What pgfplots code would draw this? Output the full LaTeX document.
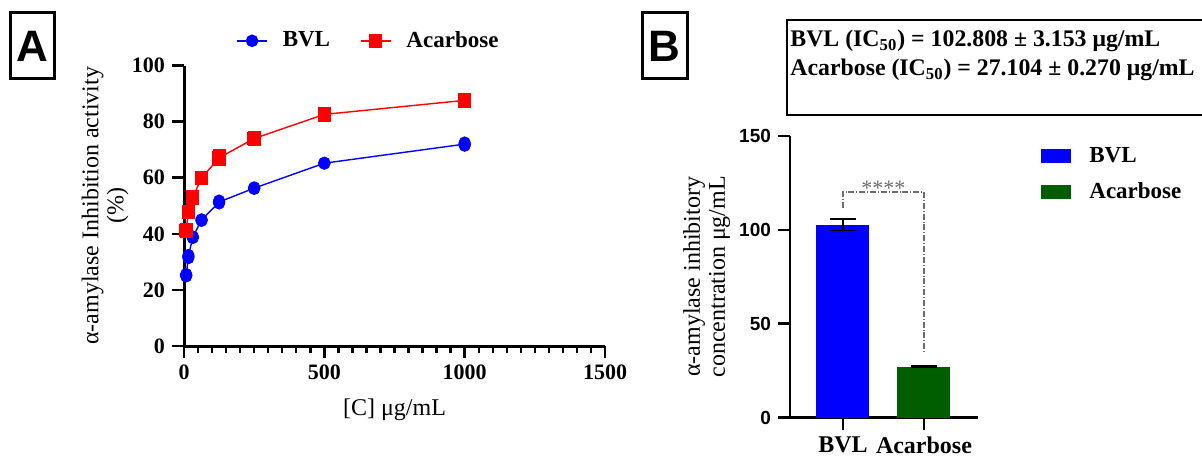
\documentclass[border=0pt]{standalone}
\usepackage{fontspec}
\setmainfont{Liberation Serif}
\setsansfont{Liberation Sans}
\usepackage{pgfplots}
\pgfplotsset{compat=1.18}

\definecolor{bvlblue}{RGB}{0,0,255}
\definecolor{acred}{RGB}{255,0,0}
\definecolor{acgreen}{RGB}{0,94,0}

\begin{document}
\begin{tikzpicture}
\useasboundingbox (0,0) rectangle (601pt,228pt);

% panel letters
\draw[line width=1.5pt] (5pt,188.5pt) rectangle (27pt,221.5pt);
\node[font=\sffamily\bfseries\fontsize{22}{22}\selectfont] at (16pt,205pt) {A};
\draw[line width=1.5pt] (321pt,188.5pt) rectangle (343.75pt,221.5pt);
\node[font=\sffamily\bfseries\fontsize{22}{22}\selectfont] at (332.4pt,205pt) {B};

% IC50 box
\draw[line width=1.3pt] (393.5pt,170.5pt) rectangle (608pt,218pt);
\node[anchor=base west, inner sep=0pt, font=\bfseries\fontsize{11.9}{14}\selectfont] at (395pt,204.7pt) {BVL (IC\textsubscript{50}) = 102.808 ± 3.153 μg/mL};
\node[anchor=base west, inner sep=0pt, font=\bfseries\fontsize{11.9}{14}\selectfont] at (395pt,190pt) {Acarbose (IC\textsubscript{50}) = 27.104 ± 0.270 μg/mL};

% ---------------- Panel A ----------------
\begin{axis}[
  at={(92pt,55pt)}, anchor=south west,
  scale only axis, width=210.5pt, height=140.2pt,
  xmin=0, xmax=1500, ymin=0, ymax=100,
  axis x line*=bottom, axis y line*=left,
  axis line style={line width=1.5pt},
  xtick={0,500,1000,1500},
  minor xtick={50,100,...,1450},
  ytick={0,20,40,60,80,100},
  tick align=outside,
  major tick length=6pt, minor tick length=3.5pt,
  every tick/.style={black, line width=1.3pt},
  every minor tick/.style={black, line width=1.2pt},
  tick label style={font=\bfseries\fontsize{11}{11}\selectfont},
  /pgf/number format/assume math mode=true,
  /pgf/number format/1000 sep={},
  xlabel={[C] μg/mL},
  ylabel={α-amylase Inhibition activity\\(\%)},
  label style={font=\fontsize{12}{12.5}\selectfont},
  ylabel style={align=center, at={(axis description cs:-0.1876,0.5)}, anchor=center},
  xlabel style={at={(axis description cs:0.5,-0.228)}, anchor=center},
  clip=false,
  legend columns=2,
  legend image code/.code={\draw[mark repeat=2, mark phase=2, #1] plot coordinates {(0pt,0pt) (7.5pt,0pt) (15pt,0pt)};},
  legend style={draw=none, fill=none, inner sep=0pt,
    at={(axis description cs:0.1235,1.0884)}, anchor=west,
    font=\bfseries\fontsize{11.5}{12}\selectfont,
    nodes={inner xsep=0pt},
    /tikz/every odd column/.append style={column sep=7.5pt},
    /tikz/every even column/.append style={column sep=15pt}},
]
\addplot[bvlblue, line width=0.7pt, mark=*, mark size=2.8pt, mark options={solid, fill=bvlblue}]
  coordinates {(7.8125,25.25) (15.625,31.9) (31.25,38.8) (62.5,44.9) (125,51.35) (250,56.3) (500,65.2) (1000,72.0)};
\addlegendentry{BVL}
\addplot[acred, line width=0.7pt, mark=square*, mark size=3pt, mark options={solid, fill=acred}]
  coordinates {(7.8125,41.3) (15.625,47.8) (31.25,53.1) (62.5,59.9) (125,67.1) (250,74.0) (500,82.6) (1000,87.6)};
\addlegendentry{Acarbose}
% replicates
\addplot[only marks, bvlblue, mark=*, mark size=2.8pt, mark options={fill=bvlblue}, forget plot]
  coordinates {(7.8125,25.7) (7.8125,24.8) (15.625,32.5) (15.625,31.3) (31.25,39.1) (31.25,38.5) (62.5,45.2) (62.5,44.6) (125,51.9) (125,50.8) (250,56.6) (250,56.0) (500,65.4) (500,65.0) (1000,72.6) (1000,71.4)};
\addplot[only marks, acred, mark=square*, mark size=3pt, mark options={fill=acred}, forget plot]
  coordinates {(7.8125,41.0) (7.8125,41.6) (15.625,47.5) (15.625,48.1) (31.25,52.8) (31.25,53.4) (62.5,59.6) (62.5,60.2) (125,66.4) (125,67.8) (250,73.7) (250,74.3) (500,82.3) (500,82.9) (1000,87.3) (1000,87.9)};
\end{axis}

% ---------------- Panel B ----------------
\begin{axis}[
  at={(395pt,19.15pt)}, anchor=south west,
  scale only axis, width=94pt, height=140.85pt,
  xmin=-0.654, xmax=1.667, ymin=0, ymax=150,
  axis x line*=bottom, axis y line*=left,
  axis line style={line width=1.4pt},
  xtick={0,1}, xticklabels={BVL,Acarbose},
  ytick={0,50,100,150},
  tick align=outside, major tick length=6pt,
  every tick/.style={black, line width=1.4pt},
  /pgf/number format/assume math mode=true,
  yticklabel style={font=\sffamily\bfseries\fontsize{9.5}{10}\selectfont},
  xticklabel style={font=\bfseries\fontsize{12}{12}\selectfont},
  ylabel={α-amylase inhibitory\\concentration μg/mL},
  ylabel style={align=center, at={(axis description cs:-0.444,0.5)}, anchor=center, font=\fontsize{12}{12.5}\selectfont},
  clip=false,
  legend image code/.code={\fill[#1] (0pt,-3.5pt) rectangle (15pt,3.5pt);},
  legend cell align=left,
  legend style={draw=none, fill=none, inner sep=0pt,
    at={(axis description cs:1.335,0.975)}, anchor=north west,
    font=\bfseries\fontsize{11.5}{12}\selectfont, row sep=4.75pt,
    nodes={inner xsep=4pt},
    /tikz/every odd column/.append style={column sep=5pt}},
]
\addplot[ybar, bar width=26.5pt, bar shift=0pt, fill=bvlblue, draw=none, forget plot,
  error bars/.cd, y dir=both, y explicit,
  error bar style={black, line width=0.8pt},
  error mark options={rotate=90, mark size=6.5pt, black, line width=0.8pt}]
  coordinates {(0,102.808) +- (0,3.153)};
\addplot[ybar, bar width=26.5pt, bar shift=0pt, fill=acgreen, draw=none, forget plot,
  error bars/.cd, y dir=both, y explicit,
  error bar style={black, line width=0.8pt},
  error mark options={rotate=90, mark size=6.5pt, black, line width=0.8pt}]
  coordinates {(1,27.104) +- (0,0.270)};
\addplot[gray!85!black, densely dash dot, line width=0.7pt, forget plot]
  coordinates {(0,111.6) (0,120.2) (1,120.2) (1,35.1)};
\node[anchor=base, text=gray!85!black, font=\fontsize{11}{11}\selectfont] at (axis cs:0.5,118.5) {****};
\addlegendimage{fill=bvlblue, draw=none}
\addlegendentry{BVL}
\addlegendimage{fill=acgreen, draw=none}
\addlegendentry{Acarbose}
\end{axis}
\end{tikzpicture}
\end{document}
